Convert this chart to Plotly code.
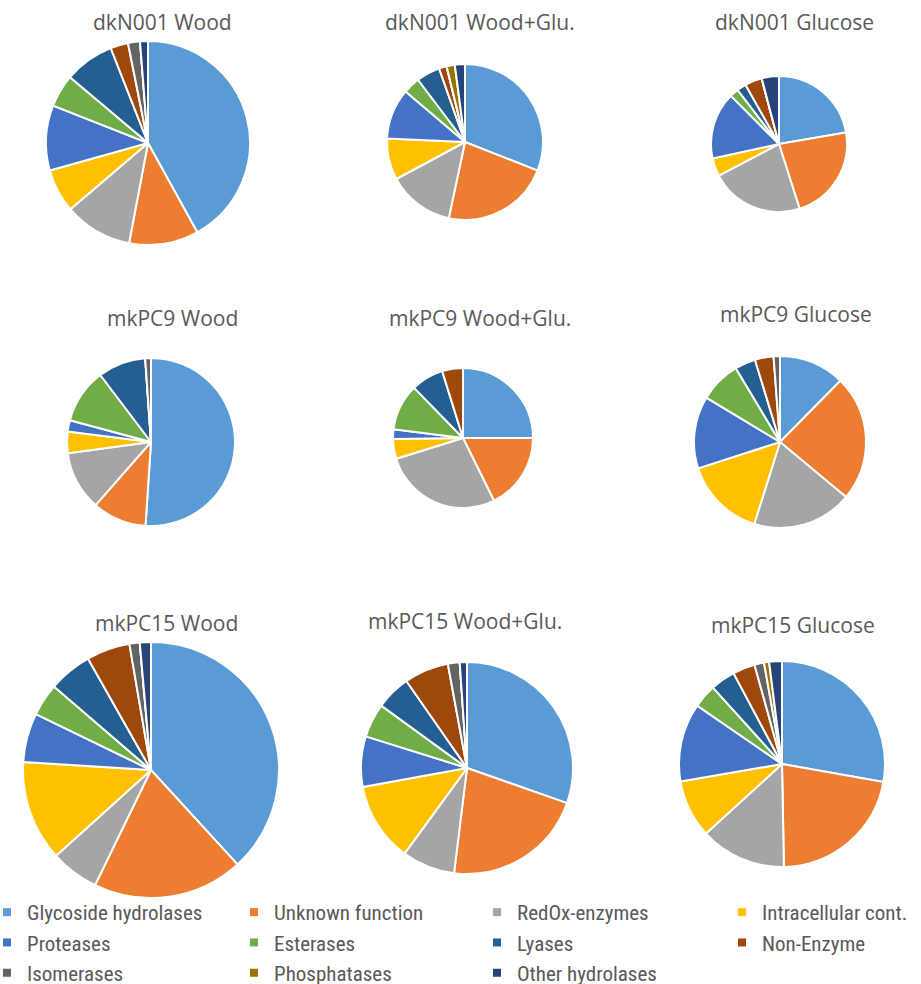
import plotly.graph_objects as go

W, H = 921, 984

categories = ["Glycoside hydrolases", "Unknown function", "RedOx-enzymes", "Intracellular cont.",
              "Proteases", "Esterases", "Lyases", "Non-Enzyme",
              "Isomerases", "Phosphatases", "Other hydrolases"]
colors = ["#5B9BD5", "#ED7D31", "#A5A5A5", "#FFC000", "#4472C4", "#70AD47",
          "#255E91", "#9E480E", "#636363", "#997300", "#264478"]

titles = ["dkN001 Wood", "dkN001 Wood+Glu.", "dkN001 Glucose",
          "mkPC9 Wood", "mkPC9 Wood+Glu.", "mkPC9 Glucose",
          "mkPC15 Wood", "mkPC15 Wood+Glu.", "mkPC15 Glucose"]

# percentage of each category, in the order of `categories`
dkN001_wood = [42.0, 11.0, 10.8, 6.9, 10.3, 5.2, 7.9, 2.8, 1.9, 0.0, 1.25]
dkN001_woodglu = [31.0, 22.4, 13.8, 8.6, 10.5, 3.5, 4.9, 1.6, 0.0, 1.7, 2.1]
dkN001_glucose = [22.3, 22.8, 22.2, 4.3, 15.9, 2.1, 2.2, 4.1, 0.0, 0.0, 4.1]
mkPC9_wood = [51.0, 10.4, 11.4, 4.1, 2.2, 10.5, 9.2, 0.0, 1.1, 0.0, 0.0]
mkPC9_woodglu = [25.0, 17.7, 27.5, 4.6, 2.2, 10.7, 7.5, 4.8, 0.0, 0.0, 0.0]
mkPC9_glucose = [12.4, 23.7, 18.8, 15.2, 13.6, 7.8, 3.9, 3.5, 1.2, 0.0, 0.0]
mkPC15_wood = [38.2, 19.0, 6.1, 12.7, 6.2, 4.1, 5.5, 5.5, 1.3, 0.0, 1.4]
mkPC15_woodglu = [30.4, 21.6, 8.1, 12.1, 7.7, 5.2, 5.3, 6.8, 1.8, 0.0, 1.1]
mkPC15_glucose = [27.8, 21.9, 13.5, 9.1, 12.3, 3.7, 3.9, 3.5, 1.5, 0.8, 2.0]

series = [dkN001_wood, dkN001_woodglu, dkN001_glucose,
          mkPC9_wood, mkPC9_woodglu, mkPC9_glucose,
          mkPC15_wood, mkPC15_woodglu, mkPC15_glucose]

# layout geometry (pixels): pie centre x, centre y, radius; title centre x, y
pie_geom = [(148, 143, 102), (465, 142, 78), (779, 144, 68),
            (151, 442, 84), (463, 438, 70), (780, 442, 86),
            (151, 770, 128), (467, 768, 106), (782, 764, 103)]
title_pos = [(162, 22), (480, 22), (794, 22),
             (172, 318), (480, 318), (796, 314),
             (166, 623), (465, 621), (793, 625)]

TITLE_FONT = dict(family="Open Sans, Noto Sans, sans-serif", size=21, color="#595959")
LEG_FONT = dict(family="Roboto Condensed, Liberation Sans Narrow, Liberation Sans, sans-serif",
                size=21, color="#595959")


def px_x(x):
    return x / W


def px_y(y):
    return 1 - y / H


fig = go.Figure()
for vals, (cx, cy, r) in zip(series, pie_geom):
    fig.add_trace(go.Pie(
        labels=categories, values=vals, sort=False, direction="clockwise", rotation=0,
        marker=dict(colors=colors, line=dict(color="white", width=2)),
        textinfo="none", hoverinfo="label+percent", showlegend=False,
        domain=dict(x=[px_x(cx - r), px_x(cx + r)], y=[px_y(cy + r), px_y(cy - r)]),
    ))

# legend: 4 columns, items laid out row-major as in the reference
legend_cols_text_x = [28, 275, 518, 763]
legend_names = ["legend", "legend2", "legend3", "legend4"]
for i, (cat, col) in enumerate(zip(categories, colors)):
    c = i % 4
    fig.add_trace(go.Scatter(
        x=[None], y=[None], mode="markers", name=cat,
        marker=dict(symbol="square", size=8, color=col),
        legend=legend_names[c], showlegend=True, hoverinfo="skip",
    ))

annotations = []
for t, (tx, ty) in zip(titles, title_pos):
    annotations.append(dict(text=t, x=px_x(tx), y=px_y(ty), xref="paper", yref="paper",
                            showarrow=False, xanchor="center", yanchor="middle", font=TITLE_FONT))

legend_common = dict(orientation="v", yanchor="top", xanchor="left", font=LEG_FONT,
                     bgcolor="rgba(0,0,0,0)", itemwidth=30, indentation=-12,
                     traceorder="normal")
layout_legends = {}
for name, tx in zip(legend_names, legend_cols_text_x):
    layout_legends[name] = dict(legend_common, x=px_x(tx - 29), y=px_y(892))

fig.update_layout(
    width=W, height=H,
    margin=dict(l=0, r=0, t=0, b=0, autoexpand=False),
    paper_bgcolor="white", plot_bgcolor="white",
    xaxis=dict(visible=False), yaxis=dict(visible=False),
    annotations=annotations,
    **layout_legends,
)

fig.write_html("out.html")
